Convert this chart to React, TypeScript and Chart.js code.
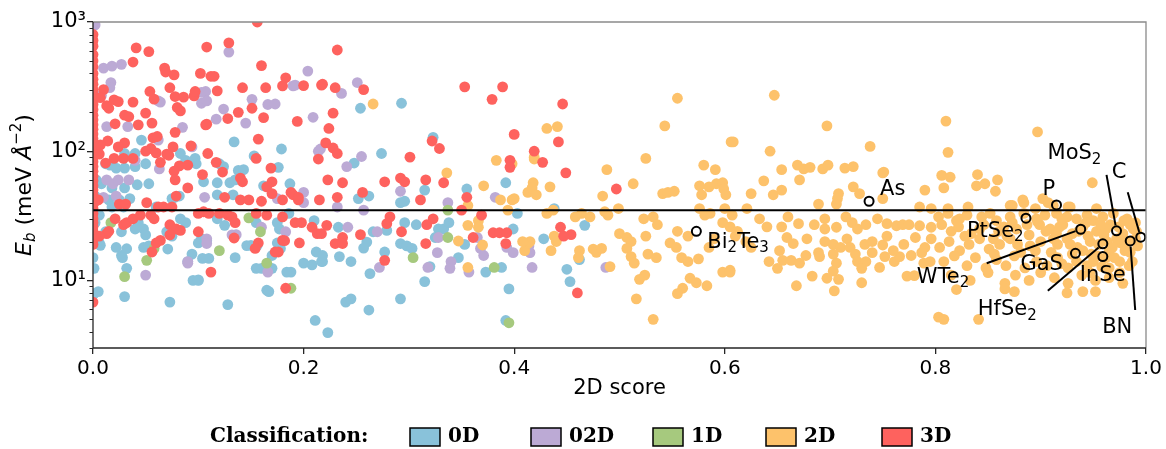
import { useEffect, useRef } from "react";
import { Chart, registerables } from "chart.js";
Chart.register(...registerables);

// ---------- data (2D score, binding energy meV/Å^2) ----------
const pts0D: number[][] = [
  [0.046,122],[0.030,96],[0.040,96],[0.083,96],[0.012,80],[0.016,78],[0.022,74],[0.030,74],[0.040,76],[0.050,80],[0.088,85],
  [0.008,56],[0.018,52],[0.030,52],[0.042,55],[0.053,56],[0.075,43],[0.078,44],[0.082,45],[0.015,42],[0.025,42],[0.035,43],
  [0.018,37],[0.029,37],[0.060,37],[0.006,32],[0.002,28],[0.043,28],[0.048,25],[0.050,22.5],[0.040,25],[0.027,23.8],[0.012,23.8],
  [0.006,19.5],[0.070,23.8],[0.075,22],[0.083,30],[0.088,28],[0.007,18.7],[0.022,18],[0.048,18],[0.053,18.5],[0.027,15.6],
  [0.032,17.6],[0.028,15],[0.032,12.4],[0.090,14],[0.095,10],[0.001,12.4],[0.000,15],[0.005,8.2],[0.030,7.5],[0.073,6.8],
  [0.001,7.9],[0.071,17.5],[0.004,20],[0.002,45],[0.003,60],
  [0.134,118],[0.179,104],[0.153,92],[0.176,75],[0.120,80],[0.124,76],[0.097,88],[0.098,80],[0.138,71],[0.143,72],[0.105,58],
  [0.118,57],[0.130,57],[0.135,60],[0.187,56],[0.162,54],[0.118,46],[0.133,46],[0.118,30],[0.125,26.7],[0.155,28],[0.175,28],
  [0.177,25],[0.186,33],[0.210,29],[0.100,19.5],[0.103,21],[0.108,20.4],[0.150,18.7],[0.156,18.7],[0.175,19.5],[0.178,17.7],
  [0.135,15],[0.170,15.6],[0.110,14.8],[0.212,16.6],[0.217,14],[0.200,13.6],[0.208,13.2],[0.160,12.4],[0.170,12.4],[0.188,11.6],
  [0.100,10],[0.104,14.8],[0.094,16],[0.146,18.6],[0.155,12.4],[0.165,8.4],[0.184,11.6],[0.167,8.2],[0.128,6.5],[0.100,10.1],
  [0.211,4.9],[0.223,3.95],
  [0.254,215],[0.293,235],[0.248,81],[0.274,96],[0.323,128],[0.355,51],[0.252,43],[0.262,45],[0.315,50],[0.292,40],[0.296,41],
  [0.392,57],[0.403,33],[0.233,25.8],[0.260,19.8],[0.257,17.8],[0.266,23.8],[0.279,24.4],[0.296,28],[0.307,27],[0.328,25],
  [0.333,25],[0.338,28],[0.325,21.5],[0.292,19.3],[0.298,18.5],[0.303,17.7],[0.353,19],[0.399,25],[0.218,14],[0.218,15.6],
  [0.234,15.3],[0.245,14],[0.277,16.6],[0.263,11.3],[0.320,12.8],[0.315,9.8],[0.347,15],[0.373,11.6],[0.388,12.6],[0.395,8.6],
  [0.240,6.8],[0.245,7.2],[0.262,5.9],[0.292,7.2],[0.392,4.9],
  [0.438,36],[0.467,26.7],[0.428,21],[0.462,14.5],[0.450,12.2],[0.453,9.8]
];

const pts02D: number[][] = [
  [0.002,950],[0.010,440],[0.018,455],[0.027,470],[0.017,340],[0.016,310],[0.062,245],[0.064,240],[0.085,153],[0.013,155],
  [0.033,155],[0.062,122],[0.094,108],[0.040,85],[0.063,73],[0.013,60],[0.019,56],[0.024,60],[0.034,60],[0.010,44],[0.022,45],
  [0.008,270],[0.050,11],[0.090,14],
  [0.129,585],[0.204,417],[0.190,320],[0.192,325],[0.107,290],[0.103,285],[0.103,235],[0.151,252],[0.108,245],[0.166,230],
  [0.173,232],[0.124,212],[0.117,177],[0.145,165],[0.209,183],[0.214,100],[0.216,104],[0.200,48],[0.106,44],[0.175,43],
  [0.200,40],[0.160,25.8],[0.132,22.5],[0.183,23.8],[0.108,21],[0.166,11.6],[0.090,13.6],[0.108,19.3],[0.136,22.6],
  [0.251,340],[0.236,280],[0.241,76],[0.255,91],[0.292,49],[0.337,40],[0.382,44],[0.242,25.8],[0.270,23.8],[0.328,21.5],
  [0.365,21.5],[0.368,17.7],[0.371,15.6],[0.393,18],[0.399,16.4],[0.272,12.6],[0.318,12.6],[0.327,16.4],[0.340,14],
  [0.339,12.4],[0.357,11.6],[0.232,37],[0.257,35],
  [0.415,16.4],[0.417,12.6],[0.487,12.6],[0.414,18.5]
];

const pts1D: number[][] = [
  [0.017,28],[0.058,17.7],[0.051,14.3],[0.030,10.7],[0.120,17],[0.165,13.6],[0.188,8.7],[0.148,30.5],[0.159,23.8],
  [0.304,15],[0.337,21.5],[0.381,12.6],[0.395,4.7],[0.337,35]
];

const pts2D: number[][] = [
  [0.266,232],[0.336,68],[0.371,54],[0.383,85],[0.398,80],[0.356,38],[0.387,42],[0.398,42],[0.400,43],[0.394,35],[0.413,48],
  [0.356,26.7],[0.366,29],[0.366,25.8],[0.347,20.2],[0.370,18.8],[0.410,17],[0.413,19.3],[0.356,12.6],
  [0.431,150],[0.441,155],[0.419,90],[0.419,87],[0.525,88],[0.555,257],[0.543,157],[0.606,118],[0.580,78],[0.591,72],[0.488,72],
  [0.418,57],[0.417,52],[0.421,46],[0.434,53],[0.513,56],[0.484,45],[0.541,47],[0.546,48],[0.552,49],[0.576,54],[0.585,53],
  [0.592,56],[0.598,57],[0.599,51],[0.601,46],[0.578,46],
  [0.431,33],[0.437,35],[0.458,31],[0.464,33],[0.472,31],[0.486,34],[0.489,32],[0.499,36],[0.523,30],[0.532,31],[0.536,27],
  [0.576,36],[0.581,32],[0.586,33],[0.600,36],[0.607,32],[0.598,28],[0.605,26],
  [0.438,22],[0.440,20],[0.435,17],[0.415,20],[0.408,20],[0.475,17.5],[0.478,16.5],[0.483,17.7],[0.500,23],[0.507,21.5],
  [0.511,20],[0.507,17.7],[0.511,15.3],[0.514,13.6],[0.525,22],[0.527,16],[0.535,15],[0.548,19.5],[0.554,18],[0.559,15],
  [0.565,14],[0.575,14.7],[0.462,17],[0.461,15],[0.491,12.8],[0.524,11],[0.519,10.2],[0.567,10.4],[0.573,9.6],[0.583,9.1],
  [0.560,8.7],[0.598,11.6],[0.605,12],[0.516,7.2],[0.555,7.9],[0.532,5.0],[0.555,24],[0.565,22],[0.590,21],[0.585,18],
  [0.647,271],[0.697,157],[0.608,118],[0.643,100],[0.738,109],
  [0.654,72],[0.669,78],[0.675,73],[0.681,75],[0.693,73],[0.698,78],[0.714,74],[0.722,76],[0.751,69],[0.637,59],[0.671,60],
  [0.625,47],[0.646,46],[0.654,50],[0.708,47],[0.707,43],[0.722,53],[0.728,47],[0.790,50],[0.689,39],[0.706,39],[0.750,43],
  [0.785,37],[0.796,36],[0.621,36],[0.750,68],
  [0.633,30],[0.654,26],[0.670,27.5],[0.695,30],[0.695,25],[0.706,25.8],[0.721,28],[0.726,25],[0.734,27],[0.754,27.5],
  [0.763,26.5],[0.769,27],[0.775,27],[0.785,26.5],[0.796,25.8],[0.659,21.5],[0.678,21],[0.665,19.3],[0.695,20],[0.703,19],
  [0.716,21],[0.710,18],[0.719,18],[0.733,19],[0.740,20],[0.750,18.8],[0.754,22],[0.781,21.5],[0.796,21],
  [0.652,17],[0.655,14.3],[0.663,14.3],[0.671,13.6],[0.677,15.6],[0.689,16.4],[0.690,15.3],[0.703,16],[0.706,13.6],[0.724,16],
  [0.726,14],[0.734,14],[0.740,16.4],[0.752,15.3],[0.761,14],[0.766,15.3],[0.777,15.6],[0.787,16.4],[0.789,13.6],[0.795,14],
  [0.642,14],[0.650,12.4],[0.703,11.8],[0.730,12.4],[0.747,12.6],[0.683,10.8],[0.697,10.4],[0.708,10.2],[0.730,9.6],
  [0.773,10.8],[0.780,10.9],[0.668,9.1],[0.704,8.3],[0.803,5.2],[0.605,11.6],[0.620,20],[0.612,24],
  [0.610,22],[0.625,18],[0.640,26],[0.660,31],[0.685,27],[0.715,31],[0.745,30],[0.770,19],[0.760,17],[0.790,18],
  [0.810,171],[0.897,141],[0.812,98],[0.806,65],[0.814,63],[0.808,52],[0.840,66],[0.839,54],[0.847,56],[0.859,60],[0.857,49],
  [0.949,57],[0.831,37],[0.812,36],[0.873,38],[0.884,40],[0.895,36],[0.907,40],[0.928,37],[0.953,36],[0.883,42],[0.902,43],
  [0.871,38],[0.912,38],[0.926,37],
  [0.803,31],[0.812,33],[0.823,30],[0.830,32],[0.844,31],[0.852,33],[0.858,29],[0.871,31],[0.884,33],[0.896,30],[0.904,32],
  [0.915,33],[0.925,31],[0.934,30],[0.944,32],[0.950,29],[0.959,31],[0.969,33],[0.982,30],[0.990,28],
  [0.806,27],[0.815,24],[0.822,26],[0.834,23],[0.846,27],[0.860,24],[0.865,26],[0.877,25],[0.889,22.5],[0.899,27],[0.909,25],
  [0.915,23],[0.921,27],[0.940,26],[0.953,24],[0.966,27],[0.978,23],[0.988,25],[0.873,28],[0.897,28.5],[0.930,23],[0.960,22.5],
  [0.804,18],[0.813,20],[0.823,17],[0.832,19],[0.842,21],[0.851,17.5],[0.861,19],[0.871,21],[0.881,16.5],[0.890,18.5],
  [0.900,20],[0.910,16.5],[0.916,19],[0.925,21],[0.940,17],[0.947,20],[0.965,17],[0.976,19.5],[0.985,16.5],[0.992,18.5],[0.856,16],
  [0.808,14],[0.818,15.5],[0.830,13],[0.838,15],[0.848,12.5],[0.858,14.5],[0.867,13],[0.875,15.5],[0.885,12.5],[0.896,14],
  [0.906,13],[0.916,15],[0.926,12.5],[0.934,14],[0.944,13],[0.954,15.5],[0.965,12.5],[0.975,14],[0.984,13],
  [0.815,11],[0.833,10],[0.850,11.5],[0.866,9.5],[0.876,11],[0.889,10],[0.900,11.5],[0.913,10.5],[0.926,9.5],[0.939,11],
  [0.952,10],[0.965,10.5],[0.978,9.5],
  [0.808,5],[0.841,5],[0.866,8.6],[0.952,8.2],[0.820,8.5],[0.875,8.2],[0.925,8],[0.940,8.2],
  [0.935,18],[0.945,22],[0.955,19],[0.962,25],[0.972,21],[0.980,17],[0.950,14],[0.970,15],[0.990,21],[0.985,27],[0.930,16],
  [0.920,13.5],[0.975,11.5],[0.958,12.8],
  [0.905,24],[0.912,21],[0.918,26],[0.928,19],[0.936,24],[0.943,28],[0.948,16],[0.957,27],[0.963,20],[0.968,18],[0.974,26],
  [0.979,29],[0.983,20],[0.987,14],[0.991,24],[0.962,15],[0.947,11.5],[0.920,30],[0.895,17],[0.887,27],[0.878,19],[0.868,22],
  [0.855,21],[0.842,25],[0.828,22],[0.820,29]
];

const pts3D: number[][] = [
  [0,800],[0,720],[0,650],[0,560],[0,500],[0,450],[0,400],[0,360],[0,330],[0,300],[0,275],[0,250],[0,230],[0,210],[0,190],
  [0,175],[0,160],[0,148],[0,136],[0,125],[0,115],[0,106],[0,98],[0,90],[0,83],[0,76],[0,70],[0,64],[0,59],[0,54],[0,50],
  [0,46],[0,42],[0,39],[0,36],[0,33],[0,30],[0,28],[0,26],[0,24],[0,22],[0,20.5],[0,19],[0,6.8],
  [0.041,630],[0.053,590],[0.038,490],[0.068,440],[0.069,410],[0.077,390],[0.102,400],[0.112,380],[0.054,290],[0.073,310],
  [0.078,265],[0.086,262],[0.096,268],[0.080,218],[0.083,205],[0.015,215],[0.010,300],[0.007,260],[0.020,250],[0.024,242],
  [0.038,240],[0.058,253],[0.013,225],[0.050,197],[0.030,190],[0.034,185],[0.056,165],[0.043,160],[0.021,163],[0.078,140],
  [0.014,120],[0.007,112],[0.030,116],[0.024,108],[0.057,127],[0.061,130],[0.055,105],[0.050,100],[0.060,97],[0.070,95],
  [0.076,108],[0.093,110],[0.006,95],[0.020,88],[0.029,88],[0.038,88],[0.012,81],[0.064,82],[0.072,93],[0.082,77],[0.077,70],
  [0.078,60],[0.090,78],[0.090,52],[0.005,42],[0.001,40],[0.025,39],[0.031,39],[0.051,40],[0.062,37],[0.067,37],[0.075,37],
  [0.079,45],[0.021,30],[0.029,27],[0.032,28],[0.038,30],[0.045,32],[0.055,32],[0.058,30],[0.073,27],[0.079,25],[0.073,22.5],
  [0.064,20.4],[0.083,24.4],[0.013,23],[0.015,24],[0.006,22],[0.060,19.5],[0.056,16.6],
  [0.156,1000],[0.108,640],[0.129,690],[0.160,460],[0.115,380],[0.183,370],[0.142,310],[0.118,293],[0.164,310],[0.180,320],
  [0.200,322],[0.097,290],[0.217,325],[0.151,215],[0.138,200],[0.162,182],[0.128,179],[0.107,160],[0.194,170],[0.108,162],
  [0.157,124],[0.109,96],[0.214,87],[0.155,88],[0.169,74],[0.117,82],[0.123,69],[0.104,66],[0.140,62],[0.142,58],[0.170,58],
  [0.165,53],[0.188,48],[0.190,46],[0.195,44],[0.170,47],[0.125,44],[0.140,42],[0.148,42],[0.160,41],[0.180,42],[0.195,42],
  [0.215,42],[0.100,33],[0.105,34],[0.110,33],[0.120,33],[0.128,32],[0.132,31],[0.135,28],[0.155,33],[0.165,32],[0.180,31],
  [0.192,28],[0.198,28],[0.208,25.8],[0.213,23],[0.100,23.8],[0.134,21.3],[0.157,19.5],[0.154,17.7],[0.180,20.4],[0.196,19.5],
  [0.176,16.6],[0.112,11.6],[0.183,8.7],[0.173,16.6],[0.182,20.3],
  [0.232,607],[0.218,330],[0.230,310],[0.257,300],[0.228,197],[0.224,150],[0.221,116],[0.228,106],[0.232,96],[0.301,90],
  [0.322,120],[0.329,105],[0.223,60],[0.237,57],[0.256,48],[0.277,58],[0.292,62],[0.296,58],[0.316,60],[0.333,57],[0.396,85],
  [0.396,75],[0.355,44],[0.232,44],[0.311,42],[0.350,35],[0.369,32],[0.222,26.7],[0.217,23],[0.237,21.5],[0.230,19.3],
  [0.237,19.3],[0.254,22.6],[0.279,27.5],[0.282,31],[0.293,23.8],[0.317,27],[0.323,30],[0.316,19.3],[0.361,21.5],[0.380,23.4],
  [0.386,23.4],[0.393,23.4],[0.392,19.3],[0.277,14.3],[0.353,315],[0.389,315],[0.379,252],[0.400,135],
  [0.446,232],[0.442,118],[0.419,100],[0.427,82],[0.449,68],[0.497,51],[0.444,25.8],[0.454,22.6],[0.447,22],[0.460,8]
];

const annNames = ["As", "Bi_2Te_3", "P", "PtSe_2", "MoS_2", "C", "BN", "WTe_2", "HfSe_2", "GaS", "InSe"];
const annX = [0.737, 0.573, 0.915, 0.886, 0.972, 0.995, 0.985, 0.938, 0.959, 0.933, 0.959];
const annY = [41, 24, 38.4, 30.3, 24.2, 21.6, 20.2, 24.9, 19.2, 16.2, 15.3];

const classNames = ["0D", "02D", "1D", "2D", "3D"];
const legendTitle = "Classification:";
const xTicks = [0, 0.2, 0.4, 0.6, 0.8, 1.0];
const yTicks = [10, 100, 1000];
const threshold = 35;

// ---------- styles ----------
const colors = ["#89c2da", "#bcaad5", "#a6c97e", "#fdc26b", "#fe625e"];
// label placement: [dx, dy] of text left/center from marker, optional leader end [lx, ly]
const labelStyle: { dx: number; dy: number; line?: number[] }[] = [
  { dx: 11, dy: -12 },
  { dx: 11, dy: 11 },
  { dx: -14, dy: -15 },
  { dx: -59, dy: 13 },
  { dx: -69, dy: -77, line: [-10, -56] },
  { dx: -29, dy: -65, line: [-13, -45] },
  { dx: -28, dy: 87, line: [5, 69] },
  { dx: -164, dy: 48, line: [-94, 34] },
  { dx: -125, dy: 66, line: [-55, 47] },
  { dx: -55, dy: 11 },
  { dx: -23, dy: 19 },
];
const SANS = "'DejaVu Sans', sans-serif";
const SERIF = "'DejaVu Serif', serif";

function drawSubText(ctx: CanvasRenderingContext2D, text: string, x: number, y: number, size: number) {
  const parts = text.split(/(_\d)/).filter((p) => p.length);
  let cx = x;
  ctx.textAlign = "left";
  ctx.textBaseline = "middle";
  for (const p of parts) {
    if (p.startsWith("_")) {
      ctx.font = `${Math.round(size * 0.7)}px ${SANS}`;
      ctx.fillText(p.slice(1), cx, y + size * 0.3);
      cx += ctx.measureText(p.slice(1)).width;
    } else {
      ctx.font = `${size}px ${SANS}`;
      ctx.fillText(p, cx, y);
      cx += ctx.measureText(p).width;
    }
  }
}

const overlay = {
  id: "overlay",
  afterDatasetsDraw(chart: any) {
    const ctx: CanvasRenderingContext2D = chart.ctx;
    const a = chart.chartArea;
    const xs = chart.scales.x;
    const ys = chart.scales.y;
    ctx.save();
    // spines
    ctx.lineWidth = 1.3;
    ctx.strokeStyle = "#8a8a8a";
    ctx.beginPath();
    ctx.moveTo(a.left, a.top);
    ctx.lineTo(a.right, a.top);
    ctx.lineTo(a.right, a.bottom);
    ctx.stroke();
    ctx.strokeStyle = "#262626";
    ctx.beginPath();
    ctx.moveTo(a.left, a.top);
    ctx.lineTo(a.left, a.bottom);
    ctx.lineTo(a.right, a.bottom);
    ctx.stroke();
    // minor ticks on log axis
    ctx.lineWidth = 1;
    for (const d of [1, 10, 100]) {
      for (let m = 2; m <= 9; m++) {
        const v = m * d;
        if (v < ys.min || v > ys.max) continue;
        const py = Math.round(ys.getPixelForValue(v)) + 0.5;
        ctx.beginPath();
        ctx.moveTo(a.left - 3.5, py);
        ctx.lineTo(a.left, py);
        ctx.stroke();
      }
    }
    // annotation labels and leader lines
    ctx.fillStyle = "#000";
    ctx.strokeStyle = "#000";
    for (let i = 0; i < annNames.length; i++) {
      const px = xs.getPixelForValue(annX[i]);
      const py = ys.getPixelForValue(annY[i]);
      const s = labelStyle[i];
      if (s.line) {
        const ex = px + s.line[0];
        const ey = py + s.line[1];
        const len = Math.hypot(ex - px, ey - py);
        const r = 5.5;
        ctx.lineWidth = 2;
        ctx.beginPath();
        ctx.moveTo(ex, ey);
        ctx.lineTo(px + ((ex - px) * r) / len, py + ((ey - py) * r) / len);
        ctx.stroke();
      }
      drawSubText(ctx, annNames[i], px + s.dx, py + s.dy, 21);
    }
    ctx.restore();
  },
  afterDraw(chart: any) {
    const ctx: CanvasRenderingContext2D = chart.ctx;
    const a = chart.chartArea;
    ctx.save();
    ctx.fillStyle = "#000";
    // x title
    ctx.font = `21px ${SANS}`;
    ctx.textAlign = "center";
    ctx.textBaseline = "middle";
    ctx.fillText("2D score", (a.left + a.right) / 2, 389);
    // y title (rotated)
    const parts: { t: string; f: string; dy: number }[] = [
      { t: "E", f: `italic 22px ${SANS}`, dy: 0 },
      { t: "b", f: `italic 15px ${SANS}`, dy: 6 },
      { t: " (meV ", f: `22px ${SANS}`, dy: 0 },
      { t: "Å", f: `italic 22px ${SANS}`, dy: 0 },
      { t: "−2", f: `15px ${SANS}`, dy: -8 },
      { t: ")", f: `22px ${SANS}`, dy: 0 },
    ];
    let total = 0;
    for (const p of parts) {
      ctx.font = p.f;
      total += ctx.measureText(p.t).width;
    }
    ctx.translate(25, (a.top + a.bottom) / 2);
    ctx.rotate(-Math.PI / 2);
    ctx.textAlign = "left";
    let cx = -total / 2;
    for (const p of parts) {
      ctx.font = p.f;
      ctx.fillText(p.t, cx, p.dy);
      cx += ctx.measureText(p.t).width;
    }
    ctx.setTransform(1, 0, 0, 1, 0, 0);
    // legend
    const ly = 437;
    ctx.textBaseline = "middle";
    ctx.textAlign = "left";
    ctx.font = `bold 20px ${SERIF}`;
    ctx.fillText(legendTitle, 210, ly);
    const boxX = [410, 531, 653, 766, 882];
    for (let i = 0; i < classNames.length; i++) {
      ctx.fillStyle = colors[i];
      ctx.fillRect(boxX[i], ly - 9, 30, 18);
      ctx.strokeStyle = "#000";
      ctx.lineWidth = 1.5;
      ctx.strokeRect(boxX[i], ly - 9, 30, 18);
      ctx.fillStyle = "#000";
      ctx.font = `bold 20px ${SERIF}`;
      ctx.fillText(classNames[i], boxX[i] + 38, ly);
    }
    ctx.restore();
  },
};

const sup: Record<number, string> = { 1: "¹", 2: "²", 3: "³" };

export default function App() {
  const ref = useRef<HTMLCanvasElement | null>(null);
  useEffect(() => {
    if (!ref.current) return;
    const toXY = (arr: number[][]) => arr.map(([x, y]) => ({ x, y }));
    const series = [pts0D, pts02D, pts1D, pts2D, pts3D];
    const orders = [5, 4, 3, 2, 1];
    const datasets: any[] = series.map((s, i) => ({
      label: classNames[i],
      data: toXY(s),
      backgroundColor: colors[i],
      borderWidth: 0,
      pointRadius: 5.4,
      pointHoverRadius: 5.4,
      clip: 0,
      order: orders[i],
    }));
    datasets.push({
      label: "threshold",
      type: "line",
      data: [{ x: 0, y: threshold }, { x: 1, y: threshold }],
      borderColor: "#000",
      borderWidth: 2,
      pointRadius: 0,
      showLine: true,
      clip: 0,
      order: -1,
    });
    datasets.push({
      label: "annotated",
      data: annX.map((x, i) => ({ x, y: annY[i] })),
      backgroundColor: "rgba(0,0,0,0)",
      borderColor: "#000",
      borderWidth: 2,
      pointRadius: 4.5,
      clip: false,
      order: -2,
    });
    const chart = new Chart(ref.current, {
      type: "scatter",
      data: { datasets },
      options: {
        animation: false,
        responsive: false,
        events: [],
        layout: { padding: { top: 22, right: 20, left: 0, bottom: 0 } },
        plugins: { legend: { display: false }, tooltip: { enabled: false } },
        scales: {
          x: {
            type: "linear",
            min: 0,
            max: 1,
            afterBuildTicks: (s: any) => {
              s.ticks = xTicks.map((value) => ({ value }));
            },
            afterFit: (s: any) => {
              s.height = 101;
            },
            ticks: {
              callback: (v: any) => Number(v).toFixed(1),
              font: { family: SANS, size: 20 },
              color: "#000",
              padding: 3,
              maxRotation: 0,
            },
            grid: { drawOnChartArea: false, tickLength: 6, color: "#262626", lineWidth: 1.3 },
            border: { display: false },
          },
          y: {
            type: "logarithmic",
            min: 3,
            max: 1000,
            afterBuildTicks: (s: any) => {
              s.ticks = yTicks.map((value) => ({ value, major: true }));
            },
            afterFit: (s: any) => {
              s.width = 93;
            },
            ticks: {
              callback: (v: any) => "10" + sup[Math.round(Math.log10(Number(v)))],
              font: { family: SANS, size: 21 },
              color: "#000",
              padding: 1,
            },
            grid: { drawOnChartArea: false, tickLength: 6, color: "#262626", lineWidth: 1.3 },
            border: { display: false },
          },
        },
      },
      plugins: [overlay],
    });
    return () => chart.destroy();
  }, []);
  return (
    <div style={{ position: "absolute", left: 0, top: 0, width: 1166, height: 449, background: "#fff" }}>
      <canvas ref={ref} width={1166} height={449} />
    </div>
  );
}
